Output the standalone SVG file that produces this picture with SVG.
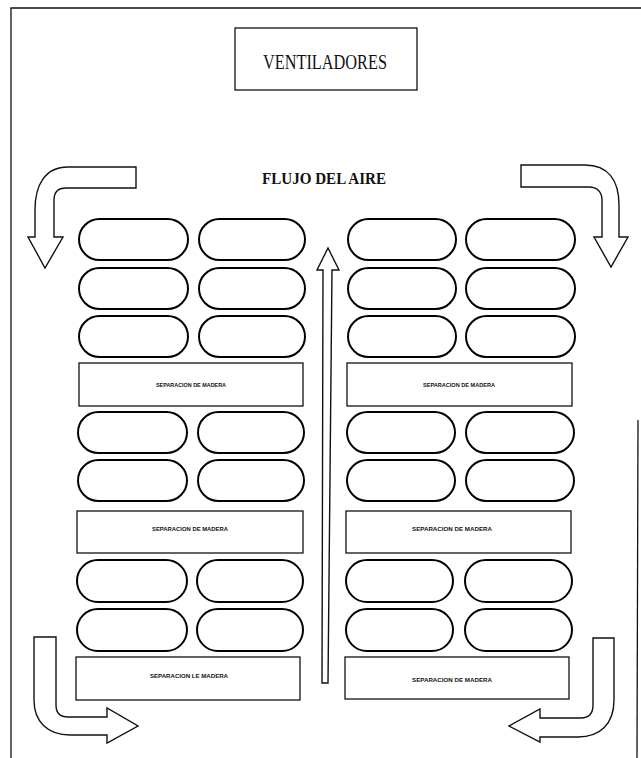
<svg xmlns="http://www.w3.org/2000/svg" width="641" height="758" viewBox="0 0 641 758">
<style>
.frame{fill:none;stroke:#111;stroke-width:1.3}
.box{fill:#fff;stroke:#111;stroke-width:1.3}
.pill{fill:#fff;stroke:#000;stroke-width:2}
.arrow{fill:#fff;stroke:#111;stroke-width:1.4;stroke-linejoin:miter}
.title{font-family:"Liberation Serif",serif;font-size:20px;fill:#111}
.flow{font-family:"Liberation Serif",serif;font-size:16px;font-weight:bold;fill:#111}
.sep{font-family:"Liberation Sans",sans-serif;font-size:6px;font-weight:bold;fill:#111}
</style>
<rect x="0" y="0" width="641" height="758" fill="#fff"/>
<g id="frame">
<path class="frame" d="M11,758 L11,8 L641,8"/>
<path class="frame" d="M638,420 L637,758"/>
</g>
<g id="ventiladores">
<rect class="box" x="235" y="28" width="182" height="62"/>
<text class="title" x="325" y="69" text-anchor="middle" textLength="124" lengthAdjust="spacingAndGlyphs">VENTILADORES</text>
</g>
<g id="flujo">
<text class="flow" x="324" y="184" text-anchor="middle" textLength="124" lengthAdjust="spacingAndGlyphs">FLUJO DEL AIRE</text>
</g>
<g id="pills-left">
<rect class="pill" x="79" y="219" width="109" height="41" rx="20.5"/>
<rect class="pill" x="199" y="219" width="106" height="41" rx="20.5"/>
<rect class="pill" x="79" y="268" width="109" height="41" rx="20.5"/>
<rect class="pill" x="199" y="268" width="106" height="41" rx="20.5"/>
<rect class="pill" x="79" y="316" width="109" height="41" rx="20.5"/>
<rect class="pill" x="199" y="316" width="106" height="41" rx="20.5"/>
<rect class="pill" x="78" y="412" width="109" height="41" rx="20.5"/>
<rect class="pill" x="198" y="412" width="106" height="41" rx="20.5"/>
<rect class="pill" x="78" y="460" width="109" height="41" rx="20.5"/>
<rect class="pill" x="198" y="460" width="106" height="41" rx="20.5"/>
<rect class="pill" x="77" y="560" width="110" height="42" rx="21"/>
<rect class="pill" x="197" y="560" width="106" height="42" rx="21"/>
<rect class="pill" x="77" y="609" width="110" height="42" rx="21"/>
<rect class="pill" x="197" y="609" width="106" height="42" rx="21"/>
</g>
<g id="pills-right">
<rect class="pill" x="348" y="219" width="108" height="41" rx="20.5"/>
<rect class="pill" x="466" y="219" width="109" height="41" rx="20.5"/>
<rect class="pill" x="348" y="268" width="108" height="41" rx="20.5"/>
<rect class="pill" x="466" y="268" width="109" height="41" rx="20.5"/>
<rect class="pill" x="348" y="316" width="108" height="41" rx="20.5"/>
<rect class="pill" x="466" y="316" width="109" height="41" rx="20.5"/>
<rect class="pill" x="347" y="412" width="108" height="41" rx="20.5"/>
<rect class="pill" x="466" y="412" width="108" height="41" rx="20.5"/>
<rect class="pill" x="347" y="460" width="108" height="41" rx="20.5"/>
<rect class="pill" x="466" y="460" width="108" height="41" rx="20.5"/>
<rect class="pill" x="346" y="560" width="107" height="42" rx="21"/>
<rect class="pill" x="465" y="560" width="107" height="42" rx="21"/>
<rect class="pill" x="346" y="609" width="107" height="42" rx="21"/>
<rect class="pill" x="465" y="609" width="107" height="42" rx="21"/>
</g>
<g id="sep-left-1">
<rect class="box" x="79" y="363" width="224" height="43"/>
<text class="sep" x="191" y="387" text-anchor="middle" textLength="70" lengthAdjust="spacingAndGlyphs">SEPARACION DE MADERA</text>
</g>
<g id="sep-right-1">
<rect class="box" x="347" y="363" width="225" height="43"/>
<text class="sep" x="459" y="387" text-anchor="middle" textLength="72" lengthAdjust="spacingAndGlyphs">SEPARACION DE MADERA</text>
</g>
<g id="sep-left-2">
<rect class="box" x="77" y="511" width="226" height="42"/>
<text class="sep" x="190" y="531" text-anchor="middle" textLength="76" lengthAdjust="spacingAndGlyphs">SEPARACION DE MADERA</text>
</g>
<g id="sep-right-2">
<rect class="box" x="346" y="511" width="225" height="42"/>
<text class="sep" x="452" y="531" text-anchor="middle" textLength="80" lengthAdjust="spacingAndGlyphs">SEPARACION DE MADERA</text>
</g>
<g id="sep-left-3">
<rect class="box" x="76" y="657" width="224" height="43"/>
<text class="sep" x="189" y="678" text-anchor="middle" textLength="78" lengthAdjust="spacingAndGlyphs">SEPARACION LE MADERA</text>
</g>
<g id="sep-right-3">
<rect class="box" x="345" y="657" width="224" height="42"/>
<text class="sep" x="452" y="682" text-anchor="middle" textLength="80" lengthAdjust="spacingAndGlyphs">SEPARACION DE MADERA</text>
</g>
<g id="connectors">
<path class="arrow" d="M136,167 L68,167 C45,167 35,185 35,210 L35,237 L28,237 L45,268 L63,237 L54,237 L54,200 C54,192 58,188 66,188 L136,188 Z"/>
<path class="arrow" d="M521,165 L585,165 C608,165 619,180 619,205 L619,237 L628,237 L611,267 L594,237 L602,237 L602,200 C602,192 597,187 589,187 L521,187 Z"/>
<path class="arrow" d="M34,637 L56,637 L56,705 C56,713 60,717 68,717 L107,717 L107,708 L138,726 L107,743 L107,735 L70,735 C48,735 34,722 34,700 Z"/>
<path class="arrow" d="M614,638 L593,638 L593,705 C593,713 589,718 581,718 L540,718 L540,709 L509,726 L540,742 L540,737 L578,737 C600,737 614,724 614,700 Z"/>
<path class="arrow" d="M322,683 L323,270 L317,270 L328,248 L339,270 L332,270 L328,683 Z"/>
</g>
</svg>
